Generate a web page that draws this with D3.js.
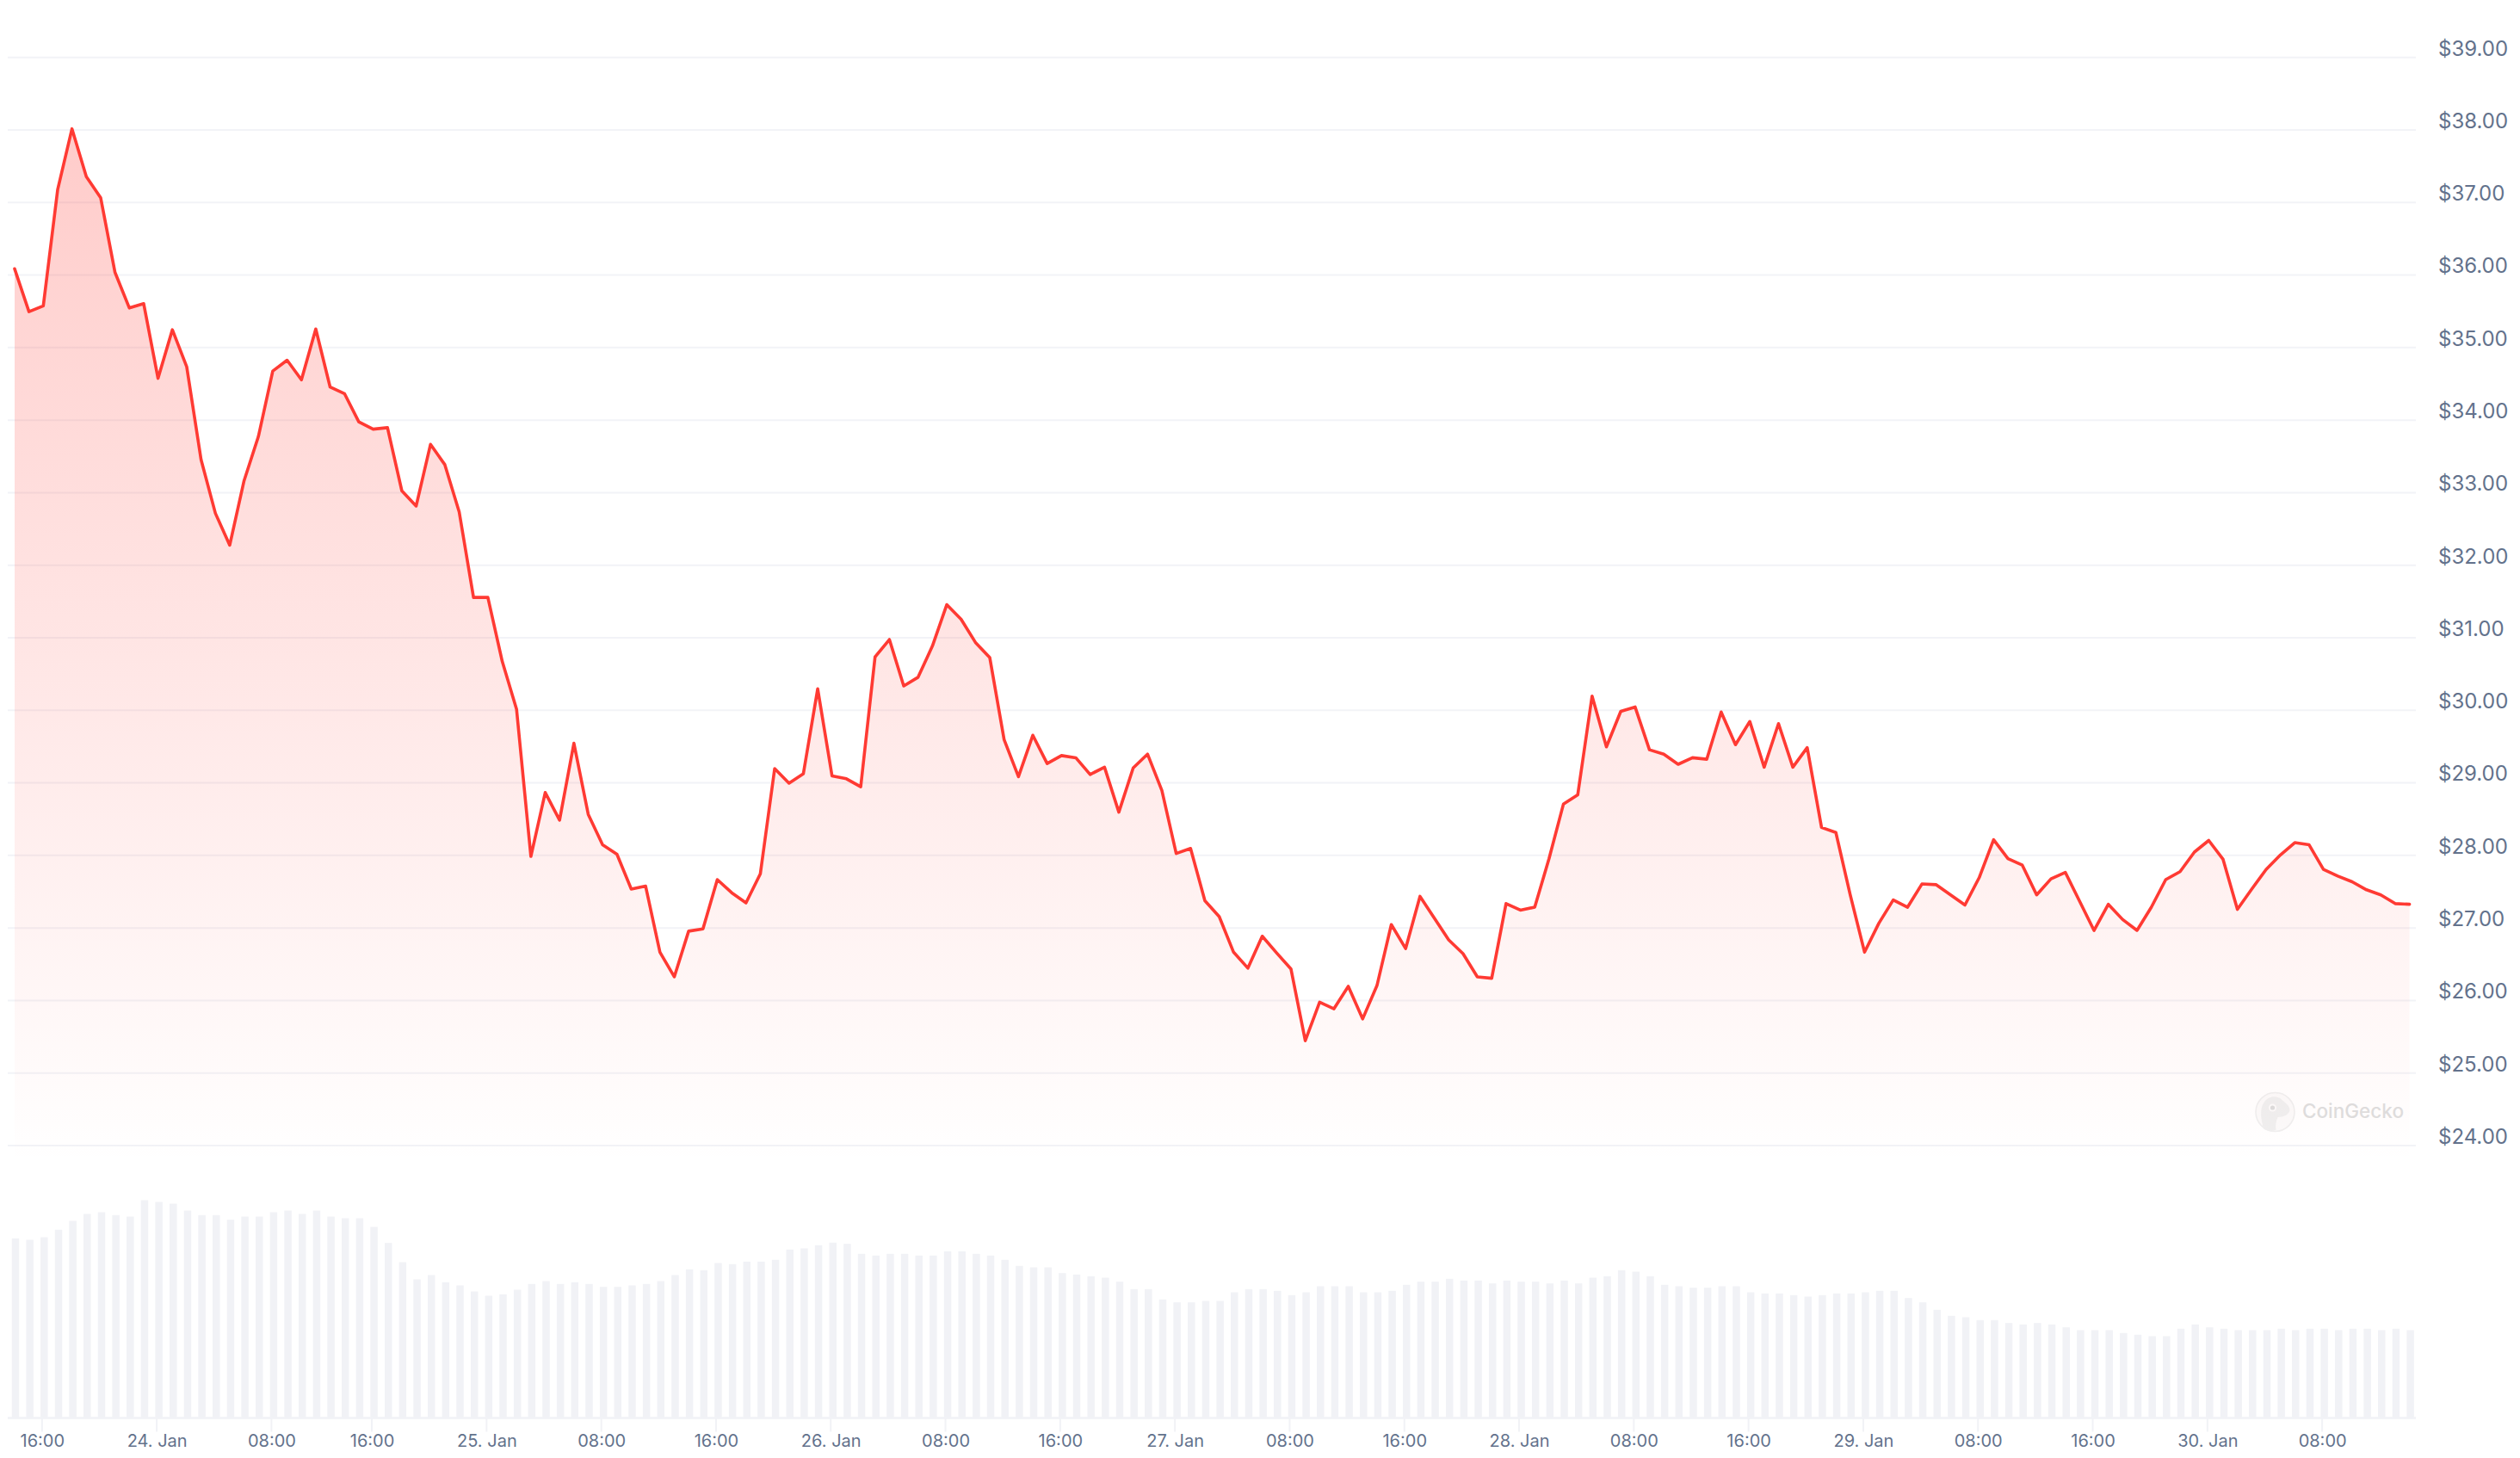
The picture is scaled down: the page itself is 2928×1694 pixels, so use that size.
<!DOCTYPE html>
<html><head><meta charset="utf-8">
<script src="https://cdn.jsdelivr.net/npm/d3@7"></script>
<style>
html,body{margin:0;padding:0;background:#fff;}
svg{display:block;}
text{font-family:Inter,"Noto Sans",sans-serif;}
</style></head><body>
<svg id="chart" width="2928" height="1694"></svg>
<script>
const prices = [
36.08,35.49,35.57,37.17,38.01,37.35,37.06,36.03,35.54,35.60,34.57,35.24,34.73,33.45,32.71,32.27,33.16,33.77,34.67,34.82,
34.55,35.25,34.45,34.36,33.97,33.87,33.89,33.02,32.81,33.66,33.38,32.73,31.55,31.55,30.67,30.01,27.98,28.86,28.48,29.54,
28.56,28.14,28.01,27.53,27.57,26.66,26.32,26.95,26.98,27.66,27.48,27.34,27.74,29.19,28.99,29.12,30.29,29.09,29.05,28.94,
30.73,30.97,30.33,30.45,30.88,31.45,31.25,30.93,30.72,29.59,29.08,29.65,29.26,29.37,29.34,29.11,29.21,28.59,29.20,29.39,
28.89,28.02,28.09,27.37,27.15,26.66,26.44,26.88,26.65,26.43,25.44,25.97,25.88,26.19,25.74,26.20,27.04,26.71,27.43,27.13,
26.83,26.64,26.32,26.30,27.33,27.24,27.28,27.95,28.70,28.83,30.19,29.49,29.98,30.04,29.45,29.39,29.25,29.34,29.32,29.97,
29.52,29.84,29.21,29.81,29.21,29.48,28.38,28.31,27.45,26.66,27.06,27.38,27.28,27.60,27.59,27.45,27.31,27.69,28.21,27.95,
27.86,27.45,27.67,27.76,27.36,26.96,27.32,27.11,26.96,27.28,27.66,27.77,28.04,28.20,27.94,27.25,27.53,27.80,28.00,28.17,
28.14,27.80,27.71,27.63,27.52,27.45,27.33,27.32];
const volumes = [
207.7,206,209,217.7,228,236,238,234.7,233,252,250,248,240,234.7,234.7,229.3,233,233,238,240,
236,240,233,231,231,221,202.3,180,160,165,156.7,153,146,141,142.7,148,154.7,158,154.7,156.7,
154.7,151.3,151.3,153,154.7,158,165,171.7,170.7,179,177.7,180.7,180.7,182.7,194.7,196,199.7,202.7,201.3,189.7,
187.7,189.7,189.7,187.7,187.7,192.7,192.7,189.7,187.7,182.7,175.7,174,174,167.3,165.7,163.7,162,157.3,148.7,148.7,
136.7,133.3,133.3,135,135,145,148.7,148.7,146.7,141.7,145,152,152,152,145,145,146.7,153.7,157.3,157.3,
160.7,158.7,158.7,155.3,158.7,157.3,157.3,155.3,158.7,155.3,162,163.7,170.7,169,163.7,153.7,152,150.3,150.3,152,
152,145,143.7,143.7,141.7,140,141.7,143.7,143.7,145,146.7,146.7,138.3,133.3,124.7,117.7,116,112.7,112.7,109.3,
107.7,109.3,107.7,104.3,101,101,101,97.7,95.7,94,94,102.7,107.7,104.3,102.7,101,101,101,102.7,101,
102.7,102.7,101,102.7,102.7,101,102.7,101];
const priceTicks = [24,25,26,27,28,29,30,31,32,33,34,35,36,37,38,39];
const timeTickIndex = [2,10,18,25,33,41,49,57,65,73,81,89,97,105,113,121,129,137,145,153,161];
const timeTickLabels = ["16:00","24. Jan","08:00","16:00","25. Jan","08:00","16:00","26. Jan","08:00","16:00","27. Jan","08:00","16:00","28. Jan","08:00","16:00","29. Jan","08:00","16:00","30. Jan","08:00"];

const svg = d3.select("#chart");
const x = d3.scaleLinear().domain([0, prices.length - 1]).range([17, 2799.6]);
const y = d3.scaleLinear().domain([24, 38]).range([1330.5, 150.5]);
const vol = d3.scaleLinear().domain([0, 252]).range([1646.5, 1394.5]);
const plotLeft = 9, plotRight = 2807, areaBase = 1352;

const defs = svg.append("defs");
const grad = defs.append("linearGradient").attr("id","fade")
  .attr("gradientUnits","userSpaceOnUse").attr("x1",0).attr("x2",0).attr("y1",150).attr("y2",areaBase);
grad.append("stop").attr("offset",0).attr("stop-color","#ff3a33").attr("stop-opacity",0.26);
grad.append("stop").attr("offset",1).attr("stop-color","#ff3a33").attr("stop-opacity",0);

// gridlines + price labels
const yAxis = d3.axisRight(y).tickValues(priceTicks).tickFormat(d => "$" + d.toFixed(2))
  .tickSize(-(plotRight - plotLeft)).tickPadding(26);
const gy = svg.append("g").attr("transform",`translate(${plotRight},0)`).call(yAxis);
gy.select(".domain").remove();
gy.selectAll(".tick line").attr("stroke","#f2f3f7").attr("stroke-width",2);
gy.selectAll(".tick text").attr("fill","#63728c").attr("font-size",24).attr("dy","-0.09em");

// volume bars
svg.append("g").selectAll("rect").data(volumes).join("rect")
  .attr("x",(d,i)=>x(i)+1-4.25).attr("width",8.5)
  .attr("y",d=>vol(d)).attr("height",d=>vol(0)-vol(d))
  .attr("fill","#f1f2f6");

// watermark
const wm = svg.append("g").attr("transform","translate(2643.5,1292)");
wm.append("circle").attr("r",22.5).attr("fill","#fbfafa").attr("stroke","#efefef").attr("stroke-width",1.6);
wm.append("path").attr("fill","#efefef")
  .attr("d","M-13,20 C-17,8 -18,-4 -13,-11 C-9,-18 1,-20 7,-15 C12,-10 17,-8 17,-2 C16,3 10,6 3,6 C1,11 0,16 1,21 C-4,23 -9,22 -13,20 Z");
wm.append("circle").attr("cx",-3).attr("cy",-5).attr("r",4.5).attr("fill","#fbfafa");
wm.append("circle").attr("cx",-3).attr("cy",-5).attr("r",2.6).attr("fill","#dcdcdc");
svg.append("text").attr("x",2675).attr("y",1298.5).attr("font-size",22.5).attr("font-weight",500)
  .attr("fill","#dedede").text("CoinGecko");

// area and line
const area = d3.area().x((d,i)=>x(i)).y0(areaBase).y1(d=>y(d));
const line = d3.line().x((d,i)=>x(i)).y(d=>y(d));
svg.append("path").datum(prices).attr("d",area).attr("fill","url(#fade)");
svg.append("path").datum(prices).attr("d",line).attr("fill","none")
  .attr("stroke","#ff3a33").attr("stroke-width",3.6).attr("stroke-linejoin","round").attr("stroke-linecap","round");

// time axis
svg.append("line").attr("x1",plotLeft).attr("x2",plotRight).attr("y1",vol(0)+1).attr("y2",vol(0)+1)
  .attr("stroke","#f1f2f6").attr("stroke-width",2.5);
const xAxis = d3.axisBottom(x).tickValues(timeTickIndex)
  .tickFormat(d => timeTickLabels[timeTickIndex.indexOf(d)]).tickSize(17).tickPadding(3.5);
const gx = svg.append("g").attr("transform",`translate(-2,${vol(0)})`).call(xAxis);
gx.select(".domain").remove();
gx.selectAll(".tick line").attr("stroke","#f1f2f6").attr("stroke-width",2);
gx.selectAll(".tick text").attr("fill","#63728c").attr("font-size",20).attr("dx","0.5");
</script>
</body></html>
